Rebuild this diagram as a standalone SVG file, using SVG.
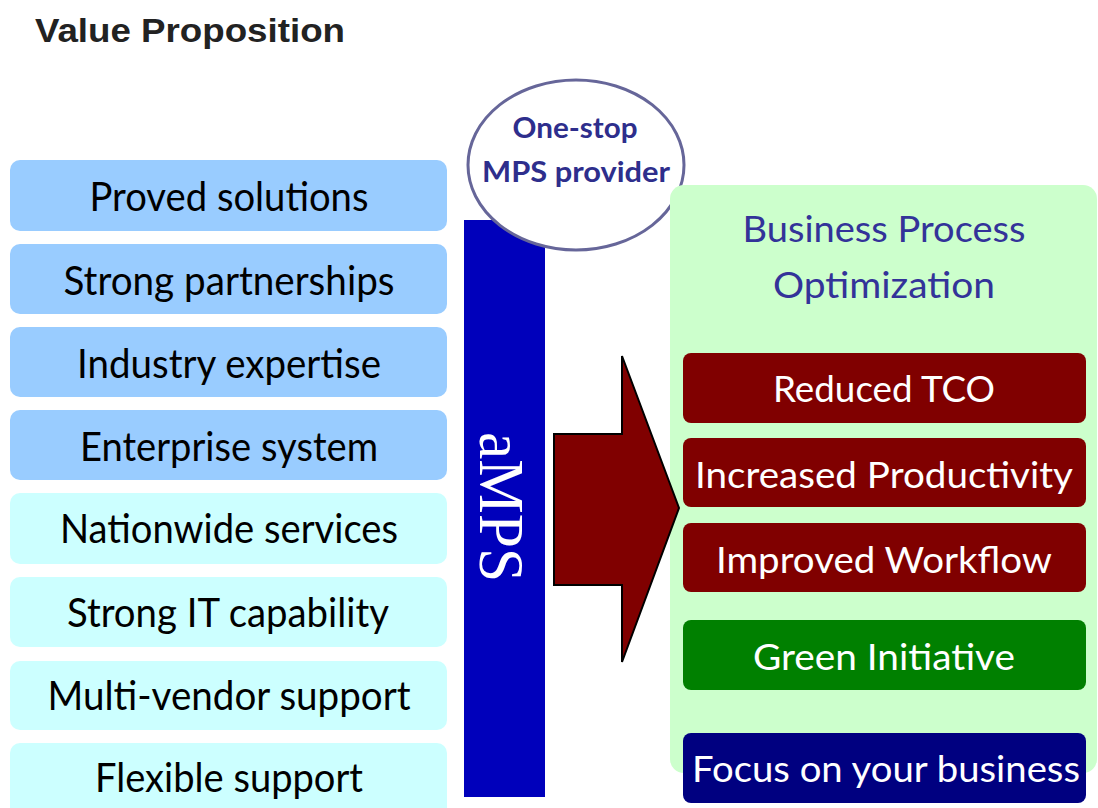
<svg xmlns="http://www.w3.org/2000/svg" width="1098" height="808" viewBox="0 0 1098 808">
<style>
.lb{fill:#99CCFF}
.lc{fill:#CCFFFF}
.lt{font-family:Lato,"Open Sans",sans-serif;font-size:40px;fill:#000;text-anchor:middle}
.rt{font-family:Lato,"Open Sans",sans-serif;font-size:37px;fill:#fff;text-anchor:middle}
.rb{rx:8px;ry:8px}
</style>
<rect width="1098" height="808" fill="#fff"/>
<g id="title"><text x="35" y="42" font-family="Liberation Sans, Arial, sans-serif" font-weight="bold" font-size="33" fill="#222" textLength="310" lengthAdjust="spacingAndGlyphs">Value Proposition</text></g>

<g id="n1"><rect class="lb" x="10" y="160" width="437" height="71" rx="10"/><text class="lt" x="229" y="211" textLength="279" lengthAdjust="spacingAndGlyphs">Proved solutions</text></g>
<g id="n2"><rect class="lb" x="10" y="244" width="437" height="70" rx="10"/><text class="lt" x="229" y="295" textLength="331" lengthAdjust="spacingAndGlyphs">Strong partnerships</text></g>
<g id="n3"><rect class="lb" x="10" y="327" width="437" height="70" rx="10"/><text class="lt" x="229" y="378" textLength="304" lengthAdjust="spacingAndGlyphs">Industry expertise</text></g>
<g id="n4"><rect class="lb" x="10" y="410" width="437" height="70" rx="10"/><text class="lt" x="229" y="461" textLength="298" lengthAdjust="spacingAndGlyphs">Enterprise system</text></g>
<g id="n5"><rect class="lc" x="10" y="493" width="437" height="71" rx="10"/><text class="lt" x="229" y="543" textLength="338" lengthAdjust="spacingAndGlyphs">Nationwide services</text></g>
<g id="n6"><rect class="lc" x="10" y="577" width="437" height="70" rx="10"/><text class="lt" x="228" y="627" textLength="322" lengthAdjust="spacingAndGlyphs">Strong IT capability</text></g>
<g id="n7"><rect class="lc" x="10" y="661" width="437" height="69" rx="10"/><text class="lt" x="229" y="710" textLength="363" lengthAdjust="spacingAndGlyphs">Multi-vendor support</text></g>
<g id="n8"><rect class="lc" x="10" y="743" width="437" height="75" rx="10"/><text class="lt" x="229" y="792" textLength="268" lengthAdjust="spacingAndGlyphs">Flexible support</text></g>

<g id="amps"><rect x="464" y="220" width="81" height="577" fill="#0000BB"/><text transform="translate(480,507) rotate(90)" x="0" y="0" font-family="Liberation Serif, 'Times New Roman', serif" font-size="64" fill="#fff" text-anchor="middle" textLength="150" lengthAdjust="spacingAndGlyphs">aMPS</text></g>

<g id="provider"><ellipse cx="576" cy="165" rx="108" ry="85" fill="#fff" stroke="#666699" stroke-width="3"/><text x="575" y="138" font-family="Lato,'Open Sans',sans-serif" font-weight="bold" font-size="29" fill="#2E2E8C" text-anchor="middle" textLength="125" lengthAdjust="spacingAndGlyphs">One-stop</text><text x="576" y="182" font-family="Lato,'Open Sans',sans-serif" font-weight="bold" font-size="29" fill="#2E2E8C" text-anchor="middle" textLength="188" lengthAdjust="spacingAndGlyphs">MPS provider</text></g>

<g id="bpo"><rect x="670" y="185" width="427" height="588" rx="14" fill="#CCFFCC"/><text x="884" y="242" font-family="Lato,'Open Sans',sans-serif" font-size="37" fill="#333399" text-anchor="middle" textLength="283" lengthAdjust="spacingAndGlyphs">Business Process</text><text x="884" y="298" font-family="Lato,'Open Sans',sans-serif" font-size="37" fill="#333399" text-anchor="middle" textLength="222" lengthAdjust="spacingAndGlyphs">Optimization</text></g>

<g id="connectors"><path d="M554,434 L622,434 L622,356 L679,508 L622,662 L622,585 L554,585 Z" fill="#800000" stroke="#000" stroke-width="2" stroke-linejoin="miter"/></g>

<g id="r1"><rect x="683" y="353" width="403" height="70" rx="8" fill="#800000"/><text class="rt" x="884" y="402" textLength="222" lengthAdjust="spacingAndGlyphs">Reduced TCO</text></g>
<g id="r2"><rect x="683" y="438" width="403" height="69" rx="8" fill="#800000"/><text class="rt" x="884" y="488" textLength="378" lengthAdjust="spacingAndGlyphs">Increased Productivity</text></g>
<g id="r3"><rect x="683" y="523" width="403" height="69" rx="8" fill="#800000"/><text class="rt" x="884" y="573" textLength="336" lengthAdjust="spacingAndGlyphs">Improved Workflow</text></g>
<g id="r4"><rect x="683" y="620" width="403" height="70" rx="8" fill="#008000"/><text class="rt" x="884" y="670" textLength="262" lengthAdjust="spacingAndGlyphs">Green Initiative</text></g>
<g id="r5"><rect x="683" y="733" width="403" height="70" rx="8" fill="#000080"/><text class="rt" x="886" y="782" textLength="388" lengthAdjust="spacingAndGlyphs">Focus on your business</text></g>
</svg>
